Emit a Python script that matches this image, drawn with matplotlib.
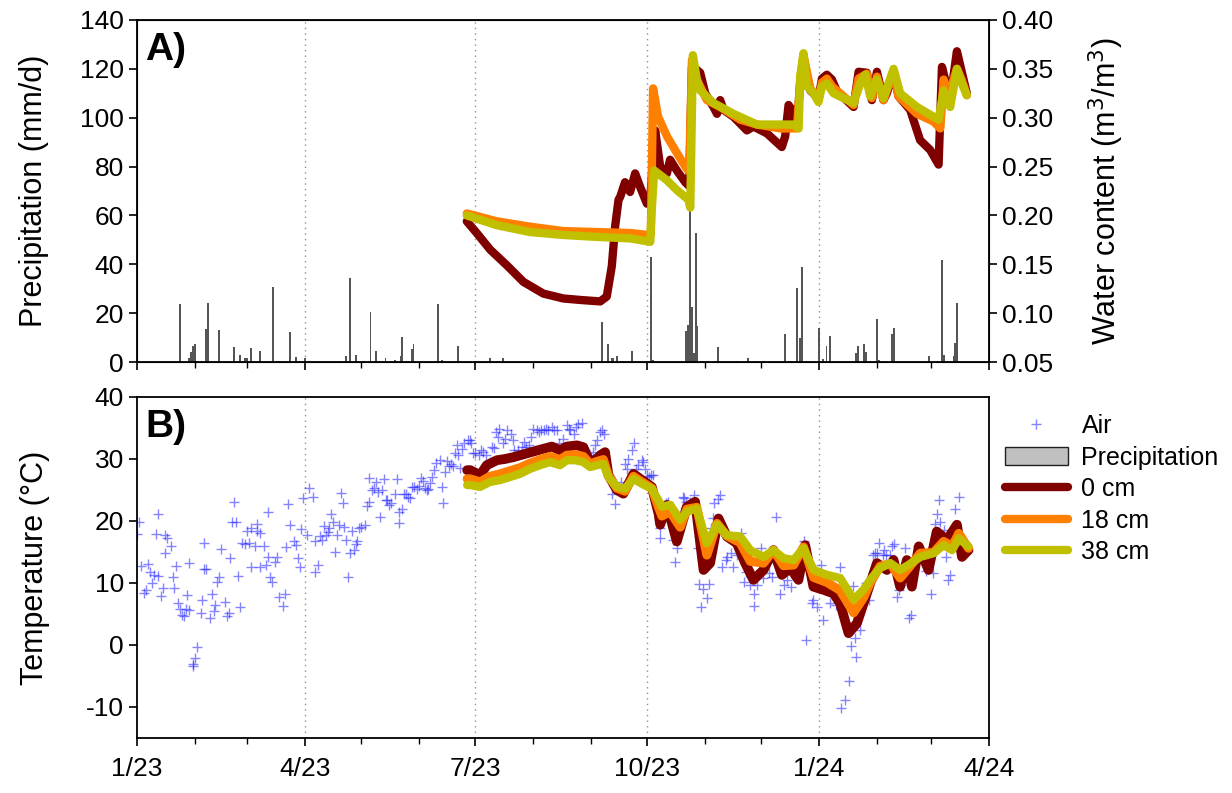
import numpy as np
import pandas as pd
import matplotlib
matplotlib.use("Agg")
import matplotlib.pyplot as plt
import matplotlib.dates as mdates
from matplotlib.patches import Patch
from matplotlib.ticker import FuncFormatter, MultipleLocator

plt.rcParams['font.family'] = ['Liberation Sans', 'DejaVu Sans']

start = pd.Timestamp('2023-01-01')

# precipitation (day of 2023, mm/d)
precip_day = [23, 28, 29, 30, 31, 37, 38, 44, 52, 55, 58, 59, 61, 66, 73, 82, 85, 87, 90,
              109, 112, 114, 117, 125, 128, 133, 138, 141, 142, 147, 148, 161, 163, 172,
              189, 196, 249, 252, 254, 255, 257, 265, 275, 276, 294, 295, 296, 297, 298,
              299, 300, 311, 321, 327, 332, 347, 353, 355, 356, 365, 367, 369, 371, 385,
              386, 389, 390, 396, 397, 404, 405, 424, 431, 432, 437, 438, 439]
precip_mm = [23.6, 1.6, 4.2, 6.5, 7.2, 13.4, 24.3, 13.0, 6.1, 3.0, 1.6, 1.6, 5.6, 4.6, 30.6,
             12.4, 2.0, 0.5, 1.6, 0.5, 2.5, 34.2, 2.7, 20.6, 4.6, 1.6, 0.7, 2.3, 10.1, 5.2,
             7.2, 23.9, 1.0, 6.5, 1.6, 1.6, 16.5, 7.4, 1.6, 1.6, 2.5, 4.6, 43.1, 0.9, 12.8,
             15.1, 65.0, 22.4, 3.8, 52.9, 14.9, 6.0, 0.6, 1.6, 0.6, 11.3, 30.4, 10.0, 39.0,
             13.8, 1.2, 6.7, 10.6, 3.8, 6.7, 7.4, 4.2, 17.5, 0.9, 11.3, 13.8, 2.5, 41.9,
             2.7, 2.5, 7.6, 24.3]

# water content (m3/m3)
wc0_day = [176.5, 181.8, 189, 197.9, 206.8, 217.5, 228.2, 237.2, 247.9, 251.4, 254.1, 255.9,
           257.7, 258.6, 261.2, 263.9, 266.6, 269.3, 272.9, 274.6, 277.3, 280, 283.6, 285.3,
           288.9, 293.4, 295.5, 297, 299.6, 301.4, 304.1, 308.5, 310.4, 312.1, 313.9, 319.2,
           326.4, 329.9, 337.1, 345.1, 346.9, 348.7, 350.5, 353.2, 354.9, 356.7, 360.3,
           364.7, 366.6, 369.2, 371.9, 374.6, 383.5, 386.2, 390.6, 393.3, 396, 399.5, 401.3,
           404.9, 407.5, 413.8, 419.1, 424.5, 429, 430.8, 433.4, 435.2, 438.8, 441.5, 444.1]
wc0 = [0.194, 0.182, 0.165, 0.149, 0.132, 0.120, 0.115, 0.1135, 0.112, 0.117, 0.148, 0.189,
       0.216, 0.219, 0.234, 0.224, 0.243, 0.229, 0.212, 0.215, 0.287, 0.250, 0.243, 0.257,
       0.246, 0.234, 0.230, 0.352, 0.349, 0.346, 0.325, 0.311, 0.304, 0.318, 0.308, 0.301,
       0.287, 0.291, 0.284, 0.270, 0.281, 0.313, 0.308, 0.291, 0.335, 0.360, 0.328, 0.320,
       0.340, 0.344, 0.339, 0.327, 0.311, 0.347, 0.346, 0.318, 0.347, 0.318, 0.325, 0.347,
       0.322, 0.308, 0.277, 0.267, 0.252, 0.352, 0.332, 0.318, 0.368, 0.346, 0.325]

wc18_day = [176.5, 192.5, 210.3, 228.2, 246, 263.9, 273.5, 275.0, 276.2, 278.9, 283.6, 288.9,
            293.4, 295.5, 297, 299.6, 305, 312.1, 322.8, 331.8, 344.3, 353.2, 355, 356.7,
            360.3, 364.7, 366.6, 369.2, 372, 383.5, 386.2, 390.6, 393.3, 396, 399.5, 404.9,
            407.5, 417.4, 426.3, 429.9, 431.7, 434.3, 438.8, 441.5, 444.1]
wc18 = [0.202, 0.194, 0.1885, 0.184, 0.183, 0.182, 0.180, 0.181, 0.330, 0.301, 0.281, 0.264,
        0.250, 0.245, 0.359, 0.339, 0.318, 0.311, 0.298, 0.293, 0.289, 0.289, 0.340, 0.364,
        0.330, 0.320, 0.336, 0.340, 0.332, 0.313, 0.340, 0.345, 0.320, 0.342, 0.318, 0.348,
        0.322, 0.304, 0.296, 0.289, 0.339, 0.322, 0.350, 0.338, 0.323]

wc38_day = [176.5, 192.5, 210.3, 228.2, 246, 263.9, 274.7, 275.3, 276.8, 283.6, 288.9, 295.1,
            296.1, 297.5, 299.6, 301.4, 308.5, 319.2, 331.8, 351.4, 354.1, 354.9, 356.7,
            358.5, 362.1, 364.7, 366.6, 369.2, 372.8, 383.5, 387.1, 389.8, 392.4, 396, 399.5,
            404.9, 408.4, 417.4, 429, 431.7, 435.2, 438.8, 441.5, 444.1]
wc38 = [0.200, 0.190, 0.183, 0.180, 0.178, 0.1765, 0.173, 0.200, 0.246, 0.236, 0.226, 0.216,
        0.208, 0.364, 0.339, 0.328, 0.315, 0.304, 0.293, 0.293, 0.289, 0.342, 0.366, 0.332,
        0.325, 0.316, 0.332, 0.335, 0.325, 0.315, 0.335, 0.344, 0.322, 0.339, 0.320, 0.350,
        0.325, 0.311, 0.298, 0.328, 0.311, 0.350, 0.335, 0.323]

# air temperature (daily)
air_day = [1, 0, 2, 6, 4, 5, 7, 8, 9, 10, 11, 11, 13, 14, 15, 15, 16, 18, 19, 20, 21, 22, 23,
           24, 25, 26, 27, 28, 28, 30, 30, 31, 32, 34, 35, 36, 36, 37, 39, 40, 41, 42, 43, 44,
           45, 47, 48, 49, 50, 52, 51, 53, 54, 55, 56, 58, 59, 60, 61, 61, 63, 64, 64, 66, 66,
           68, 69, 70, 70, 71, 72, 74, 75, 76, 78, 79, 80, 81, 82, 84, 85, 86, 87, 88, 89,
           91, 92, 94, 95, 95, 97, 98, 99, 100, 101, 102, 103, 104, 105, 106, 107, 108, 109,
           110, 111, 112, 113, 114, 115, 116, 117, 118, 119, 120, 122, 123, 124, 124, 126,
           127, 128, 129, 130, 131, 132, 133, 134, 135, 136, 138, 139, 140, 140, 142, 143,
           144, 145, 146, 147, 148, 150, 151, 152, 153, 154, 155, 156, 157, 158, 159, 160,
           162, 163, 164, 165, 166, 167, 168, 169, 170, 171, 172, 173, 174, 175, 177, 178,
           179, 180, 181, 183, 184, 185, 187, 189, 190, 191, 192, 193, 194, 196, 197, 198,
           200, 201, 202, 204, 206, 207, 208, 210, 211, 212, 214, 215, 216, 218, 219, 220,
           222, 223, 225, 226, 228, 230, 231, 232, 234, 235, 236, 238, 240, 242, 243, 244,
           245, 246, 248, 249, 250, 254, 256, 259, 261, 262, 263, 265, 266, 267, 268, 270,
           271, 272, 273, 274, 275, 276, 280, 280, 283, 284, 287, 288, 289, 291, 292, 293,
           294, 296, 298, 300, 301, 302, 303, 305, 306, 307, 308, 309, 311, 312, 313, 315,
           316, 318, 319, 321, 323, 325, 326, 328, 330, 330, 332, 334, 335, 338, 340, 342,
           344, 346, 348, 350, 354, 357, 358, 361, 362, 364, 366, 367, 371, 374, 376, 377,
           379, 381, 382, 383, 384, 385, 387, 390, 391, 392, 394, 395, 396, 397, 399, 400,
           401, 403, 404, 405, 407, 408, 409, 411, 413, 414, 418, 420, 422, 425, 426, 427,
           428, 429, 430, 432, 433, 434, 435, 438, 440]
air_t = [19.9, 17.9, 12.8, 13.1, 8.4, 8.9, 11.7, 10.0, 11.3, 17.9, 21.2, 11.1, 7.9, 9.2, 14.8,
         17.7, 17.2, 15.9, 10.9, 9.2, 12.7, 6.7, 5.8, 4.8, 4.6, 5.8, 8.1, 13.3, 5.6, -3.4, -3.0,
         -2.1, -0.3, 5.1, 7.3, 12.3, 16.5, 12.3, 4.3, 8.3, 5.4, 6.5, 10.2, 11.0, 15.4, 7.0, 4.7,
         5.2, 14.0, 23.1, 19.9, 19.9, 11.2, 6.1, 16.4, 16.3, 18.4, 16.5, 18.9, 12.5, 15.9, 18.4,
         19.5, 18.1, 12.5, 15.9, 12.9, 21.4, 14.2, 11.0, 10.1, 13.4, 14.2, 7.8, 6.3, 8.3, 15.8,
         22.8, 19.4, 16.7, 16.2, 14.0, 12.6, 18.7, 23.7, 17.7, 25.3, 23.9, 16.7, 11.8, 12.9,
         17.5, 16.9, 19.2, 17.7, 18.3, 18.8, 21.2, 19.9, 15.0, 17.7, 19.4, 24.5, 22.9, 19.1,
         17.0, 10.9, 14.8, 18.4, 15.3, 16.3, 16.7, 18.8, 19.1, 19.4, 22.4, 23.1, 27.0, 25.0,
         25.3, 26.3, 24.7, 20.7, 25.0, 26.8, 23.4, 23.4, 22.6, 22.9, 24.4, 26.8, 21.5, 19.7,
         22.0, 24.4, 24.4, 23.9, 23.7, 25.5, 25.4, 25.1, 25.6, 27.0, 26.5, 25.3, 25.0, 25.1,
         26.1, 27.1, 28.2, 29.3, 29.8, 25.4, 22.9, 27.9, 29.6, 28.8, 29.2, 28.8, 30.9, 32.3,
         30.6, 28.5, 31.6, 32.6, 33.0, 33.0, 32.5, 31.0, 30.9, 30.6, 31.4, 31.1, 30.6, 29.5,
         31.9, 31.7, 34.4, 33.5, 34.9, 32.5, 33.3, 34.6, 34.1, 33.0, 31.4, 31.4, 32.0, 32.7,
         31.9, 32.2, 33.5, 34.9, 34.6, 34.4, 34.6, 34.6, 34.9, 34.7, 35.2, 34.7, 34.6, 32.5,
         33.3, 35.4, 34.9, 34.6, 34.1, 35.2, 35.7, 35.8, 31.4, 30.6, 30.3, 31.1, 32.2, 33.0,
         34.4, 34.6, 34.1, 24.4, 22.8, 26.3, 29.2, 28.4, 30.0, 31.4, 32.5, 28.4, 29.0, 29.8,
         29.5, 28.4, 27.2, 27.1, 27.4, 27.4, 17.2, 18.8, 22.9, 23.1, 16.9, 13.4, 15.6, 21.5,
         23.9, 23.7, 23.1, 23.1, 24.2, 15.6, 9.9, 6.2, 9.1, 7.5, 9.9, 18.8, 20.4, 22.9, 23.5,
         24.2, 12.6, 13.7, 14.2, 14.8, 12.6, 14.5, 18.0, 10.2, 11.8, 9.7, 8.3, 6.3, 9.7, 15.6,
         10.8, 11.6, 11.0, 20.7, 8.3, 9.7, 10.5, 9.4, 11.6, 16.7, 0.8, 6.7, 7.3, 6.2, 12.9,
         4.0, 6.7, 6.5, 12.6, -10.2, -8.9, -5.8, -0.2, 9.5, 1.2, -2.0, 2.4, 10.0, 10.2, 7.3,
         14.5, 14.8, 14.8, 16.5, 14.5, 15.3, 14.5, 14.5, 15.9, 16.3, 7.8, 8.9, 9.7, 15.7, 4.3,
         4.8, 15.9, 13.5, 12.0, 8.3, 11.6, 19.5, 21.2, 23.4, 19.9, 18.5, 14.2, 10.5, 11.3,
         22.0, 23.9]

# soil temperature
t0_day = [176.7, 178.3, 183.6, 187.2, 192.6, 197, 201.5, 208.6, 215.7, 222, 226.4, 230,
          235.4, 238.9, 241.6, 244.3, 247.9, 250.5, 252.3, 256.8, 260.3, 265.7, 270.2, 275.5,
          279.1, 280, 283.6, 288.9, 294.3, 298.7, 303.2, 306.7, 311.2, 315.7, 321, 325.5,
          329.9, 335.3, 340.6, 345.1, 349.6, 354, 357.6, 362, 367.4, 372.8, 376.3, 380.8,
          385.3, 390.6, 396, 401.3, 404.9, 408.4, 412, 414.7, 418.4, 423.6, 428, 433.4, 438.8,
          441.5, 445]
t0 = [28.2, 28.2, 27.4, 29.0, 29.8, 30.0, 30.3, 30.9, 31.5, 32.0, 31.4, 32.0, 32.2, 31.9,
      30.0, 29.5, 30.6, 31.1, 27.4, 25.0, 24.4, 27.6, 26.6, 25.5, 21.2, 19.4, 22.6, 16.7, 22.3,
      23.1, 12.1, 13.2, 20.4, 17.5, 16.4, 13.2, 10.5, 12.1, 15.3, 11.3, 12.4, 10.5, 16.1, 9.4,
      8.9, 8.3, 6.7, 1.9, 3.5, 8.3, 13.2, 12.1, 13.7, 9.4, 13.7, 9.4, 15.9, 12.1, 18.3, 16.9,
      19.4, 14.2, 15.3]

t38_day = [176.7, 178.3, 183.6, 188.9, 194.3, 199.7, 205, 210.3, 215.7, 221, 226.4, 230,
           234.5, 238.9, 242.5, 246.1, 249.6, 252.3, 256.8, 261.2, 265.7, 270.2, 275.5, 279.1,
           280.9, 285.3, 290.7, 294.3, 299.6, 305, 310.4, 315.7, 322.8, 328.2, 335.3, 340.6,
           346, 351.4, 356.7, 362.1, 369.2, 376.3, 383.5, 388.8, 392.4, 397.7, 403.1, 408.4,
           412.9, 419.2, 426.3, 431.7, 436.2, 439.8, 445]
t38 = [25.8, 25.8, 25.5, 26.3, 26.6, 27.1, 27.6, 28.4, 29.0, 29.5, 29.0, 29.8, 29.8, 29.5,
       28.7, 29.0, 29.2, 27.1, 25.5, 25.2, 26.8, 26.0, 25.2, 23.3, 22.3, 22.6, 20.2, 21.5,
       22.0, 16.4, 19.4, 17.7, 17.5, 15.3, 14.2, 15.3, 14.0, 13.7, 15.6, 12.1, 11.3, 10.8,
       7.3, 8.9, 10.5, 12.4, 13.2, 12.1, 12.9, 14.2, 14.8, 16.1, 15.3, 17.2, 15.9]
t18_day = t38_day
t18 = [26.8, 26.8, 26.3, 27.2, 27.6, 28.1, 28.6, 29.3, 29.9, 30.4, 29.9, 30.6, 30.7, 30.4,
       29.2, 29.6, 29.9, 27.3, 25.3, 24.8, 27.2, 26.3, 25.3, 22.2, 20.8, 21.5, 19.0, 21.9,
       22.2, 14.5, 19.6, 17.6, 16.5, 13.5, 13.2, 15.3, 12.8, 12.9, 15.8, 10.9, 10.1, 8.8,
       5.2, 7.6, 10.0, 12.7, 13.1, 10.8, 12.4, 14.8, 14.9, 16.7, 15.9, 18.0, 15.6]


def todate(days):
    return start + pd.to_timedelta(np.asarray(days, dtype=float), unit='D')


c0, c18, c38 = '#800000', '#ff8000', '#c0c000'
tick_fs = 19
label_fs = 22

fig = plt.figure(figsize=(12.32, 7.93), dpi=100)
ax1 = fig.add_axes([0.1112, 0.5435, 0.6916, 0.4313])
ax2 = fig.add_axes([0.1112, 0.0694, 0.6916, 0.4300])
ax1r = ax1.twinx()

# top panel
ax1.bar(todate(precip_day), precip_mm, width=1.0, color='#555555', linewidth=0, zorder=2)
ax1.set_ylim(0, 140)
ax1.yaxis.set_major_locator(MultipleLocator(20))
ax1.set_ylabel('Precipitation (mm/d)', fontsize=label_fs, labelpad=22)

lw = 6
for d, v, c in [(wc0_day, wc0, c0), (wc18_day, wc18, c18), (wc38_day, wc38, c38)]:
    ax1r.plot(todate(d), v, color=c, lw=lw, solid_capstyle='round', solid_joinstyle='round')
ax1r.set_ylim(0.05, 0.40)
ax1r.yaxis.set_major_locator(MultipleLocator(0.05))
ax1r.yaxis.set_major_formatter(FuncFormatter(lambda v, p: f'{v:.2f}'))
ax1r.set_ylabel('Water content (m$^3$/m$^3$)', fontsize=label_fs, labelpad=24)
ax1.text(0.01, 0.965, 'A)', transform=ax1.transAxes, fontsize=28, fontweight='bold',
         va='top', ha='left')

# bottom panel
air, = ax2.plot(todate(air_day), air_t, ls='none', marker='+', ms=7, mew=1.0,
                color='#2020ff', alpha=0.55, zorder=2)
l0, = ax2.plot(todate(t0_day), t0, color=c0, lw=7, solid_capstyle='round', zorder=3)
l18, = ax2.plot(todate(t18_day), t18, color=c18, lw=6.5, solid_capstyle='round', zorder=4)
l38, = ax2.plot(todate(t38_day), t38, color=c38, lw=6, solid_capstyle='round', zorder=5)
ax2.set_ylim(-15, 40)
ax2.set_yticks([-10, 0, 10, 20, 30, 40])
ax2.yaxis.set_major_formatter(FuncFormatter(lambda v, p: f'{v:.0f}'))
ax2.set_ylabel('Temperature (°C)', fontsize=label_fs, labelpad=26)
ax2.text(0.01, 0.965, 'B)', transform=ax2.transAxes, fontsize=28, fontweight='bold',
         va='top', ha='left')

precip_patch = Patch(facecolor='#c0c0c0', edgecolor='#202020', linewidth=1)
leg = ax2.legend([air, precip_patch, l0, l18, l38],
                 ['Air', 'Precipitation', '0 cm', '18 cm', '38 cm'],
                 loc='upper left', bbox_to_anchor=(1.019, 0.95), frameon=False, fontsize=18,
                 handlelength=2.5, handletextpad=0.55, labelspacing=0.3, borderaxespad=0,
                 borderpad=0)
for h in leg.legend_handles[2:]:
    h.set_linewidth(6)

xmin, xmax = pd.Timestamp('2023-01-01'), pd.Timestamp('2024-04-01')
for ax in (ax1, ax2):
    ax.set_xlim(xmin, xmax)
    ax.xaxis.set_major_locator(mdates.MonthLocator(bymonth=[1, 4, 7, 10]))
    ax.xaxis.set_minor_locator(mdates.MonthLocator())
    ax.xaxis.set_major_formatter(FuncFormatter(
        lambda v, p: f'{mdates.num2date(v).month}/{mdates.num2date(v):%y}'))
    for d in ['2023-04-01', '2023-07-01', '2023-10-01', '2024-01-01']:
        ax.axvline(pd.Timestamp(d), color='#909090', ls=(0, (1, 3)), lw=1.0, zorder=1)
    ax.tick_params(axis='both', which='major', direction='out', length=6, width=1.2,
                   labelsize=tick_fs)
    ax.tick_params(axis='x', which='major', pad=8)
    ax.tick_params(axis='x', which='minor', direction='out', length=4, width=1)
    for s in ax.spines.values():
        s.set_linewidth(1.3)
ax1r.tick_params(axis='y', direction='out', length=6, width=1.2, labelsize=tick_fs)
ax1.tick_params(axis='x', labelbottom=False)

fig.savefig('out.png', dpi=100)
